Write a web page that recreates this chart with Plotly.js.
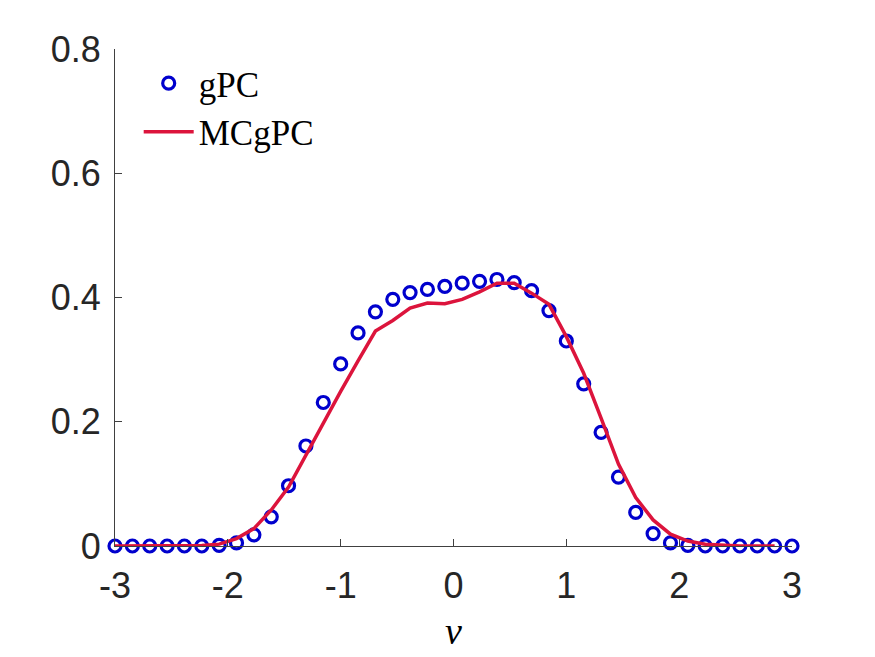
<!DOCTYPE html>
<html>
<head>
<meta charset="utf-8">
<script src="https://cdn.plot.ly/plotly-3.0.1.min.js"></script>
<style>html,body{margin:0;padding:0;background:#fff;}#chart{width:875px;height:657px;}</style>
</head>
<body>
<div id="chart"></div>
<script>
// gPC samples on 40 equally spaced points in [-3, 3]
const gpcX = [-3.000,-2.846,-2.692,-2.538,-2.385,-2.231,-2.077,-1.923,-1.769,-1.615,
              -1.462,-1.308,-1.154,-1.000,-0.846,-0.692,-0.538,-0.385,-0.231,-0.077,
               0.077, 0.231, 0.385, 0.538, 0.692, 0.846, 1.000, 1.154, 1.308, 1.462,
               1.615, 1.769, 1.923, 2.077, 2.231, 2.385, 2.538, 2.692, 2.846, 3.000];
const gpcY = [0.000,0.000,0.000,0.000,0.000,0.000,0.001,0.005,0.018,0.047,
              0.097,0.161,0.231,0.293,0.343,0.377,0.397,0.408,0.413,0.418,
              0.423,0.426,0.429,0.424,0.411,0.379,0.330,0.261,0.183,0.111,
              0.054,0.020,0.005,0.001,0.000,0.000,0.000,0.000,0.000,0.000];
// MCgPC curve
const mcX = [-3.000,-2.846,-2.692,-2.538,-2.385,-2.231,-2.077,-1.923,-1.769,-1.615,
             -1.462,-1.308,-1.154,-1.000,-0.846,-0.692,-0.538,-0.385,-0.231,-0.077,
              0.077, 0.231, 0.385, 0.538, 0.692, 0.846, 1.000, 1.154, 1.308, 1.462,
              1.615, 1.769, 1.923, 2.077, 2.231, 2.385, 2.538, 2.692, 2.846];
const mcY = [0.000,0.000,0.000,0.000,0.000,0.001,0.003,0.012,0.028,0.058,
             0.095,0.146,0.199,0.249,0.298,0.346,0.363,0.383,0.391,0.390,
             0.397,0.409,0.423,0.423,0.407,0.389,0.337,0.278,0.206,0.132,
             0.078,0.042,0.019,0.008,0.003,0.001,0.000,0.000,0.000];
const xTicks = [-3,-2,-1,0,1,2,3];
const yTicks = [0,0.2,0.4,0.6,0.8];
const yTickText = ['0','0.2','0.4','0.6','0.8'];
const seriesNames = ['gPC','MCgPC'];

const traces = [
  {x: gpcX, y: gpcY, name: seriesNames[0], mode: 'markers', type: 'scatter', cliponaxis: false,
   marker: {symbol: 'circle-open', size: 12, color: '#0000cd', line: {width: 3.2, color: '#0000cd'}}},
  {x: mcX, y: mcY, name: seriesNames[1], mode: 'lines', type: 'scatter', cliponaxis: false,
   line: {color: '#dc143c', width: 3.5}}
];
const axisColor = '#404040';
const serif = 'Liberation Serif, DejaVu Serif, serif';
const layout = {
  width: 875, height: 657,
  margin: {l: 115, r: 83, t: 49, b: 111},
  paper_bgcolor: '#fff', plot_bgcolor: '#fff',
  font: {family: 'Liberation Sans, Arial, sans-serif', color: '#262626', size: 36},
  showlegend: true,
  legend: {x: 0.035, y: 0.99, xanchor: 'left', yanchor: 'top', bgcolor: 'rgba(0,0,0,0)',
           itemwidth: 50,
           font: {family: serif, size: 35, color: '#000'},
           tracegroupgap: 0},
  xaxis: {range: [-3, 3], tickvals: xTicks, ticktext: xTicks.map(String),
          showgrid: false, zeroline: false, showline: true, linecolor: axisColor, linewidth: 1,
          ticks: 'inside', ticklen: 7, tickcolor: axisColor, ticklabelstandoff: 8,
          title: {text: '<i>v</i>', font: {family: serif, size: 38, color: '#000'}, standoff: 12}},
  yaxis: {range: [0, 0.8], tickvals: yTicks, ticktext: yTickText,
          showgrid: false, zeroline: false, showline: true, linecolor: axisColor, linewidth: 1,
          ticks: 'inside', ticklen: 7, tickcolor: axisColor, ticklabelstandoff: 6}
};
Plotly.newPlot('chart', traces, layout, {displayModeBar: false, staticPlot: true});
</script>
</body>
</html>
